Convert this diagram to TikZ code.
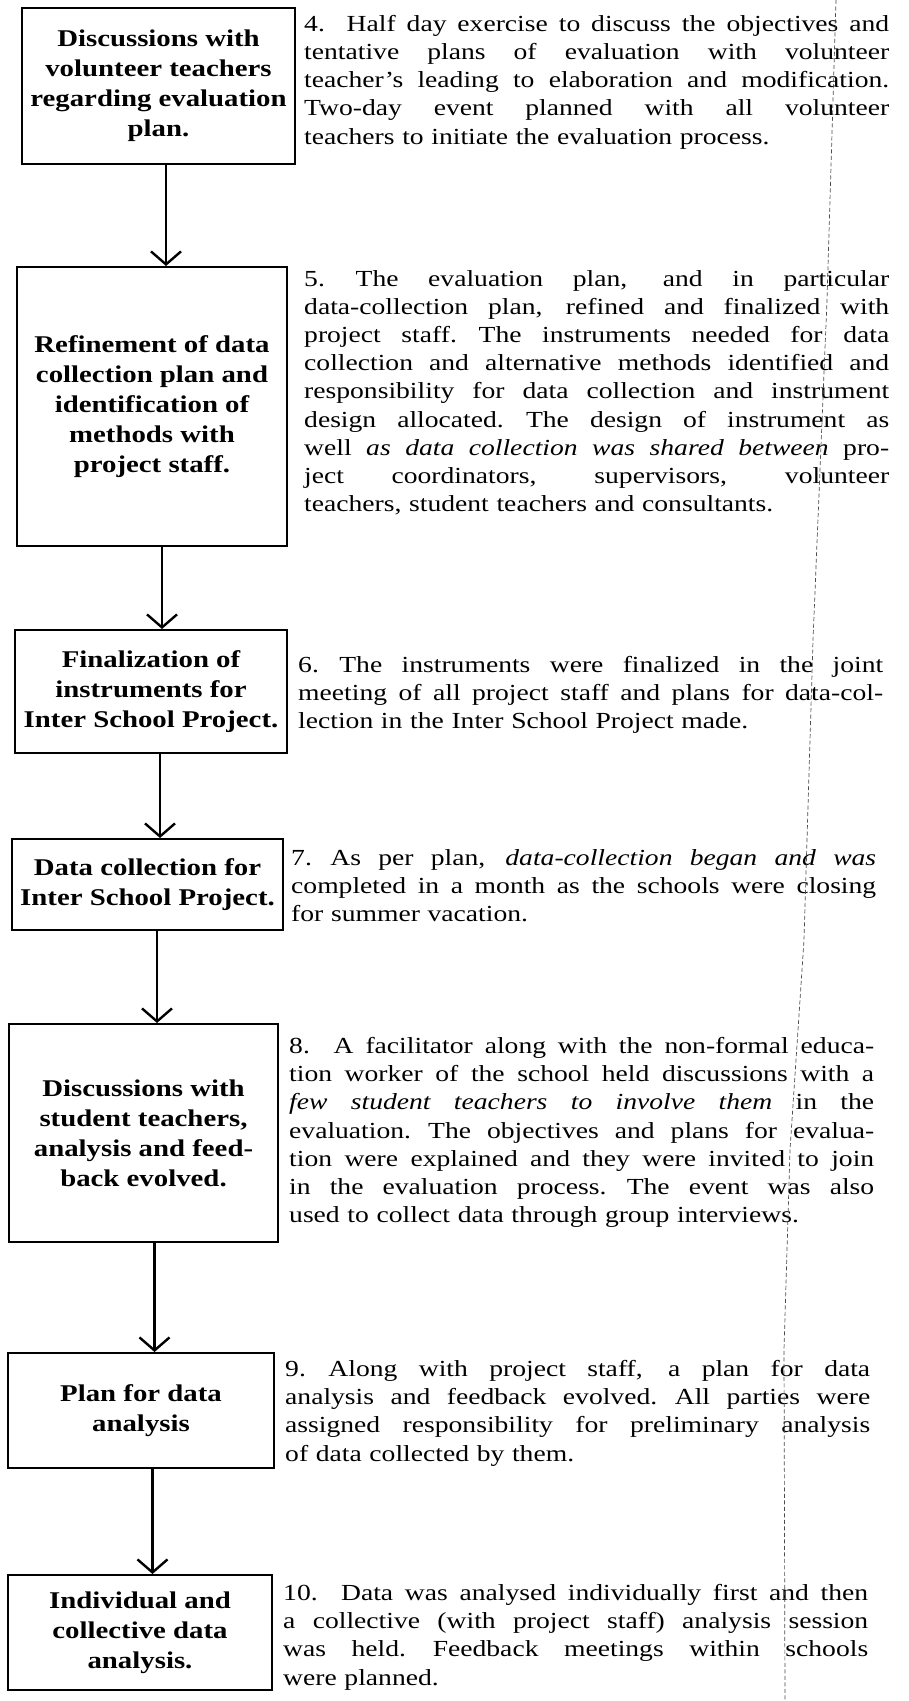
\documentclass[tikz,border=0pt]{standalone}
\usepackage{fontspec}
\setmainfont{Liberation Serif}[FakeStretch=1.2]
\usetikzlibrary{arrows.meta}
\newcommand\jl[1]{\leavevmode\hbox to 585pt{\spaceskip=0.25em plus 1.5em minus 0.08em\xspaceskip=0.3em plus 1.5em minus 0.08em\relax #1}}
\begin{document}
\begin{tikzpicture}[x=1pt,y=-1pt,
  box/.style={draw,line width=2pt,inner sep=0pt,align=center,
    font=\fontsize{24}{30}\selectfont\bfseries},
  para/.style={anchor=north west,inner sep=0pt,text width=600pt,align=left,
    execute at begin node=\setlength\parindent{0pt},
    font=\fontsize{23}{28.2}\selectfont},
  arr/.style={line width=2.6pt,-{Straight Barb[length=13pt,width=30pt,line width=2.4pt]}},
  artifact/.style={gray!60!black,line width=0.7pt,dash pattern=on 4pt off 2.5pt}]
\useasboundingbox[fill=white] (0,0) rectangle (909,1701);

% boxes
\node[box,minimum width=273pt,minimum height=156pt] (b1) at (158.5,86)
  {Discussions with\\volunteer teachers\\regarding evaluation\\plan.};
\node[box,minimum width=270pt,minimum height=279pt] (b2) at (152,406.5)
  {Refinement of data\\collection plan and\\identification of\\methods with\\project staff.};
\node[box,minimum width=272pt,minimum height=123pt] (b3) at (151,691.5)
  {Finalization of\\instruments for\\Inter School Project.};
\node[box,minimum width=271pt,minimum height=91pt] (b4) at (147.5,884.5)
  {Data collection for\\Inter School Project.};
\node[box,minimum width=269pt,minimum height=218pt] (b5) at (143.5,1133)
  {Discussions with\\student teachers,\\analysis and feed-\\back evolved.};
\node[box,minimum width=266pt,minimum height=115pt] (b6) at (141,1410.5)
  {Plan for data\\analysis};
\node[box,minimum width=264pt,minimum height=115pt] (b7) at (140,1632.5)
  {Individual and\\collective data\\analysis.};

% connectors
\coordinate (a1) at ([xshift=7.5pt]b1.south);
\coordinate (a2) at ([xshift=10pt]b2.south);
\coordinate (a3) at ([xshift=9pt]b3.south);
\coordinate (a4) at ([xshift=9.5pt]b4.south);
\coordinate (a5) at ([xshift=11pt]b5.south);
\coordinate (a6) at ([xshift=11.5pt]b6.south);
\draw[arr] (a1) -- (a1 |- b2.north);
\draw[arr] (a2) -- (a2 |- b3.north);
\draw[arr] (a3) -- (a3 |- b4.north);
\draw[arr] (a4) -- (a4 |- b5.north);
\draw[arr] (a5) -- (a5 |- b6.north);
\draw[arr] (a6) -- (a6 |- b7.north);

% paragraphs
\node[para] (p4) at (304,15) {%
\jl{4.\ \ Half day exercise to discuss the objectives and}\\
\jl{tentative plans of evaluation with volunteer}\\
\jl{teacher's leading to elaboration and modification.}\\
\jl{Two-day event planned with all volunteer}\\
teachers to initiate the evaluation process.};

\node[para] (p5) at (304,270) {%
\jl{5. The evaluation plan, and in particular}\\
\jl{data-collection plan, refined and finalized with}\\
\jl{project staff. The instruments needed for data}\\
\jl{collection and alternative methods identified and}\\
\jl{responsibility for data collection and instrument}\\
\jl{design allocated. The design of instrument as}\\
\jl{well \textit{as data collection was shared between} pro-}\\
\jl{ject coordinators, supervisors, volunteer}\\
teachers, student teachers and consultants.};

\node[para] (p6) at (298,656) {%
\jl{6. The instruments were finalized in the joint}\\
\jl{meeting of all project staff and plans for data-col-}\\
lection in the Inter School Project made.};

\node[para] (p7) at (291,849) {%
\jl{7. As per plan, \textit{data-collection began and was}}\\
\jl{completed in a month as the schools were closing}\\
for summer vacation.};

\node[para] (p8) at (289,1037) {%
\jl{8.\ \ A facilitator along with the non-formal educa-}\\
\jl{tion worker of the school held discussions with a}\\
\jl{\textit{few student teachers to involve them} in the}\\
\jl{evaluation. The objectives and plans for evalua-}\\
\jl{tion were explained and they were invited to join}\\
\jl{in the evaluation process. The event was also}\\
used to collect data through group interviews.};

\node[para] (p9) at (285,1360) {%
\jl{9. Along with project staff, a plan for data}\\
\jl{analysis and feedback evolved. All parties were}\\
\jl{assigned responsibility for preliminary analysis}\\
of data collected by them.};

\node[para] (p10) at (283,1584) {%
\jl{10.\ \ Data was analysed individually first and then}\\
\jl{a collective (with project staff) analysis session}\\
\jl{was held. Feedback meetings within schools}\\
were planned.};

% faint fold line of the scanned page
\draw[artifact] (836,0) -- (827,300) -- (813,640) -- (804,940) -- (790,1150)
  -- (784,1350) -- (785,1701);
\end{tikzpicture}
\end{document}
